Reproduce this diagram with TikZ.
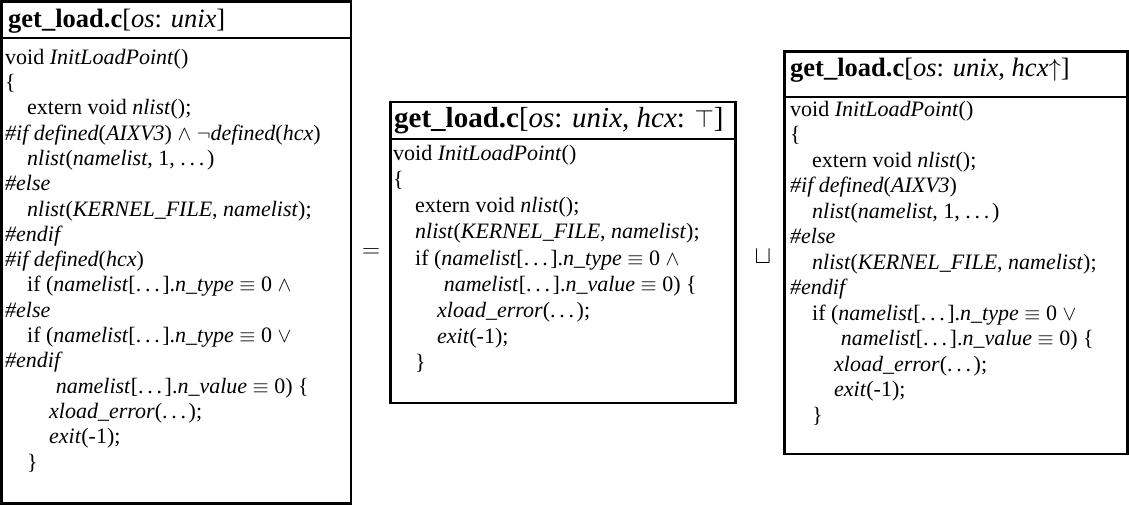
\documentclass[tikz,border=0pt]{standalone}
\usepackage{fontspec}
\setmainfont{Liberation Serif}
\newcommand{\ind}{\hspace*{1em}}
\newcommand{\dts}{.\kern0.17em.\kern0.17em.\kern0.12em}
\newcommand{\vi}[1]{\textit{#1}}
\tikzset{
  frame/.style={draw, line width=2.7pt},
  ttl/.style={anchor=base west, inner sep=0pt, font=\fontsize{26.5}{28}\selectfont},
  codeA/.style={anchor=north west, inner sep=0pt, align=left, font=\fontsize{22}{25.3}\selectfont},
  codeB/.style={anchor=north west, inner sep=0pt, align=left, font=\fontsize{22}{26.2}\selectfont},
  codeC/.style={anchor=north west, inner sep=0pt, align=left, font=\fontsize{22}{25.5}\selectfont},
  opr/.style={inner sep=0pt, font=\fontsize{26}{26}\selectfont}
}
\begin{document}
\begin{tikzpicture}[x=1pt,y=1pt]
\useasboundingbox (0,0) rectangle (1129,-505);
% box 1
\draw[frame] (1.3,-1.3) rectangle (351,-503.2);
\draw[frame] (1.3,-38) -- (351,-38);
\node[ttl] (t1) at (8,-28) {\textbf{get\_load.c}[\vi{os}: \vi{unix}]};
\node[codeA] (c1) at (5,-48) {\rule{0pt}{16pt}void \vi{InitLoadPoint}()\\
\{\\
\ind extern void \vi{nlist}();\\
\vi{\#if defined}(\vi{AIXV3}) $\wedge$ $\neg$\vi{defined}(\vi{hcx})\\
\ind \vi{nlist}(\vi{namelist}, 1, \dts)\\
\vi{\#else}\\
\ind \vi{nlist}(\vi{KERNEL\_FILE}, \vi{namelist});\\
\vi{\#endif}\\
\vi{\#if defined}(\vi{hcx})\\
\ind if (\vi{namelist}[\dts].\vi{n\_type} $\equiv$ 0 $\wedge$\\
\vi{\#else}\\
\ind if (\vi{namelist}[\dts].\vi{n\_type} $\equiv$ 0 $\vee$\\
\vi{\#endif}\\
\ind\ind\hspace*{0.3em}\vi{namelist}[\dts].\vi{n\_value} $\equiv$ 0) \{\\
\ind\ind \vi{xload\_error}(\dts);\\
\ind\ind \vi{exit}(-1);\\
\ind \}};
% operator =
\node[opr] (eq) at (371,-253) {$=$};
% box 2
\draw[frame] (390.5,-102) rectangle (735.7,-403);
\draw[frame] (390.5,-139) -- (735.7,-139);
\node[ttl, font=\fontsize{29}{30}\selectfont] (t2) at (394,-128) {\textbf{get\_load.c}[\vi{os}: \vi{unix}, \vi{hcx}: $\top$]};
\node[codeB] (c2) at (393,-144) {\rule{0pt}{16pt}void \vi{InitLoadPoint}()\\
\{\\
\ind extern void \vi{nlist}();\\
\ind \vi{nlist}(\vi{KERNEL\_FILE}, \vi{namelist});\\
\ind if (\vi{namelist}[\dts].\vi{n\_type} $\equiv$ 0 $\wedge$\\
\ind\ind\hspace*{0.3em}\vi{namelist}[\dts].\vi{n\_value} $\equiv$ 0) \{\\
\ind\ind \vi{xload\_error}(\dts);\\
\ind\ind \vi{exit}(-1);\\
\ind \}};
% operator join
\node[opr] (jn) at (763,-257) {$\sqcup$};
% box 3
\draw[frame] (784.5,-51.5) rectangle (1127.3,-454);
\draw[frame] (784.5,-97) -- (1127.3,-97);
\node[ttl] (t3) at (790,-77) {\textbf{get\_load.c}[\vi{os}: \vi{unix}, \vi{hcx}$\uparrow$]};
\node[codeC] (c3) at (790,-100) {\rule{0pt}{16pt}void \vi{InitLoadPoint}()\\
\{\\
\ind extern void \vi{nlist}();\\
\vi{\#if defined}(\vi{AIXV3})\\
\ind \vi{nlist}(\vi{namelist}, 1, \dts)\\
\vi{\#else}\\
\ind \vi{nlist}(\vi{KERNEL\_FILE}, \vi{namelist});\\
\vi{\#endif}\\
\ind if (\vi{namelist}[\dts].\vi{n\_type} $\equiv$ 0 $\vee$\\
\ind\ind\hspace*{0.3em}\vi{namelist}[\dts].\vi{n\_value} $\equiv$ 0) \{\\
\ind\ind \vi{xload\_error}(\dts);\\
\ind\ind \vi{exit}(-1);\\
\ind \}};
\end{tikzpicture}
\end{document}
